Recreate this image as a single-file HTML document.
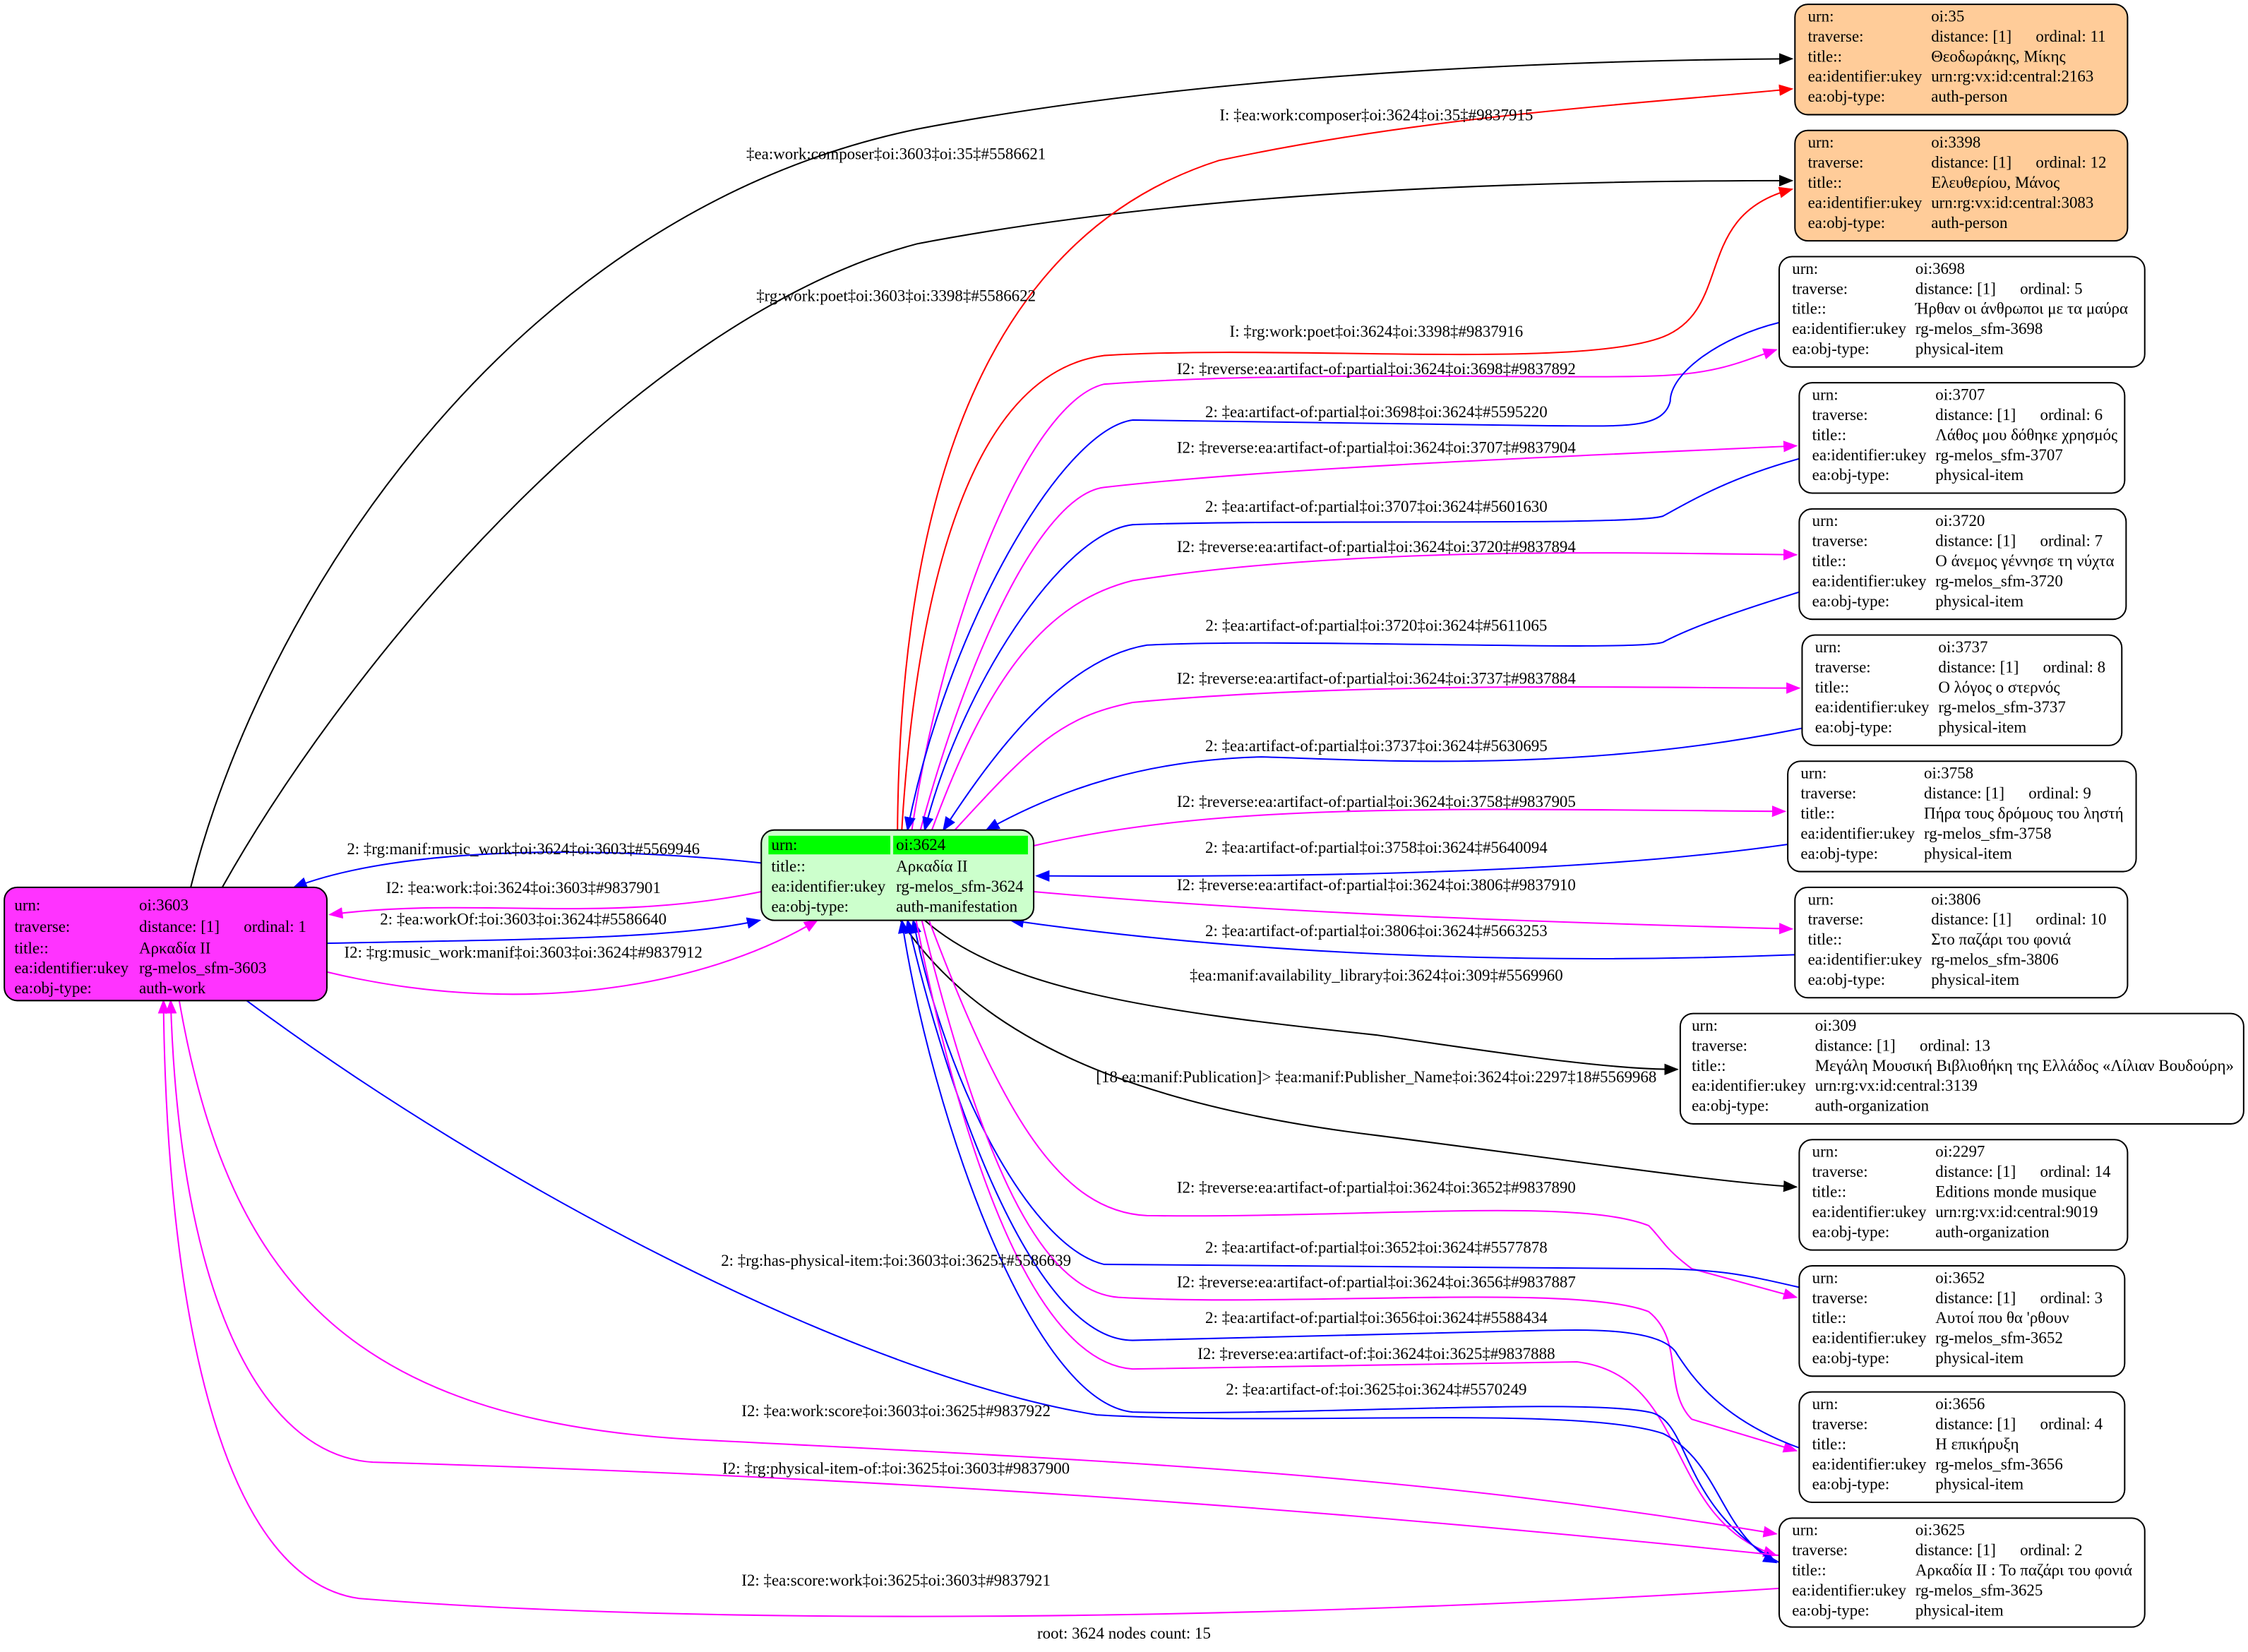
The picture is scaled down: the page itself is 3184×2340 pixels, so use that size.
<!DOCTYPE html>
<html><head><meta charset="utf-8"><style>
html,body{margin:0;padding:0;background:#fff;}
svg{display:block;}
text{font-family:"Liberation Serif",serif;font-size:11.3px;fill:#000;}
.e{fill:none;stroke-width:1;}
.k{stroke:#000}.r{stroke:#f00}.b{stroke:#00f}.m{stroke:#f0f}
.lbl{text-anchor:middle;}
.n{stroke:#000;stroke-width:1;}
</style></head><body>
<svg width="3184" height="2340" viewBox="0 0 1568 1152.4" xmlns="http://www.w3.org/2000/svg">
<defs>
<marker id="ak" markerWidth="10" markerHeight="8" refX="9" refY="4" orient="auto" markerUnits="userSpaceOnUse"><path d="M0,0L10,4L0,8z" fill="#000"/></marker>
<marker id="ar" markerWidth="10" markerHeight="8" refX="9" refY="4" orient="auto" markerUnits="userSpaceOnUse"><path d="M0,0L10,4L0,8z" fill="#f00"/></marker>
<marker id="ab" markerWidth="10" markerHeight="8" refX="9" refY="4" orient="auto" markerUnits="userSpaceOnUse"><path d="M0,0L10,4L0,8z" fill="#00f"/></marker>
<marker id="am" markerWidth="10" markerHeight="8" refX="9" refY="4" orient="auto" markerUnits="userSpaceOnUse"><path d="M0,0L10,4L0,8z" fill="#f0f"/></marker>
</defs>
<rect width="1568" height="1153" fill="#fff"/>

<!-- black edges -->
<path class="e k" marker-end="url(#ak)" d="M133,619 C180,430 350,150 640,90 C850,50 1100,42 1250,41"/>
<path class="e k" marker-end="url(#ak)" d="M155,619 C250,450 450,220 640,170 C850,130 1100,126 1250,126"/>
<path class="e k" marker-end="url(#ak)" d="M645,642 C700,690 800,705 960,722 C1050,735 1120,746 1170,746"/>
<path class="e k" marker-end="url(#ak)" d="M628,642 C680,720 780,770 960,792 C1100,810 1200,825 1253,828"/>
<!-- red -->
<path class="e r" marker-end="url(#ar)" d="M626,579 C628,320 700,160 850,112 C1000,80 1150,72 1250,62"/>
<path class="e r" marker-end="url(#ar)" d="M629,579 C640,400 680,260 770,248 C900,240 1100,258 1160,235 C1210,215 1180,150 1250,132"/>
<!-- upper group -->
<path class="e m" marker-end="url(#am)" d="M636,579 C660,420 720,280 770,268 C900,258 1100,265 1160,262 C1200,260 1215,252 1239,244"/>
<path class="e b" marker-end="url(#ab)" d="M1241,225 C1200,235 1165,260 1165,280 C1160,300 1130,297 1080,297 L790,293 C740,300 660,440 633,579"/>
<path class="e m" marker-end="url(#am)" d="M642,579 C680,440 730,345 770,340 C900,325 1150,316 1253,311"/>
<path class="e b" marker-end="url(#ab)" d="M1255,320 C1200,335 1170,355 1160,360 C1140,367 900,362 790,366 C740,372 670,480 645,579"/>
<path class="e m" marker-end="url(#am)" d="M650,579 C690,470 730,420 790,405 C950,380 1150,386 1253,387"/>
<path class="e b" marker-end="url(#ab)" d="M1255,413 C1200,430 1175,440 1160,448 C1140,455 900,445 800,450 C740,460 690,530 658,579"/>
<path class="e m" marker-end="url(#am)" d="M666,579 C720,520 740,500 790,490 C950,475 1150,480 1255,480"/>
<path class="e b" marker-end="url(#ab)" d="M1257,508 C1100,540 950,530 880,528 C800,530 740,550 688,579"/>
<path class="e m" marker-end="url(#am)" d="M721,590 C850,560 1000,564 1245,566"/>
<path class="e b" marker-end="url(#ab)" d="M1247,589 C1100,610 900,612 723,611"/>
<path class="e m" marker-end="url(#am)" d="M721,622 C900,638 1100,644 1250,648"/>
<path class="e b" marker-end="url(#ab)" d="M1252,666 C1100,672 900,670 705,642"/>
<!-- 3603 <-> 3624 -->
<path class="e b" marker-end="url(#ab)" d="M531,602 C420,590 280,590 205,619"/>
<path class="e m" marker-end="url(#am)" d="M531,622 C420,645 330,625 230,638"/>
<path class="e b" marker-end="url(#ab)" d="M228,658 C380,655 470,655 530,642"/>
<path class="e m" marker-end="url(#am)" d="M228,678 C360,710 490,690 570,642"/>
<!-- lower group -->
<path class="e m" marker-end="url(#am)" d="M648,642 C700,780 740,845 800,848 C950,850 1100,835 1150,855 C1160,865 1160,870 1180,885 L1253,905"/>
<path class="e b" marker-end="url(#ab)" d="M1255,898 C1220,890 1200,885 1150,885 L770,882 C720,870 660,760 637,642"/>
<path class="e m" marker-end="url(#am)" d="M643,642 C680,790 720,900 780,905 C900,912 1100,895 1150,915 C1175,935 1160,970 1180,990 L1253,1012"/>
<path class="e b" marker-end="url(#ab)" d="M1255,1010 C1200,990 1180,960 1170,945 C1160,925 1100,928 1080,928 L790,935 C720,935 660,760 633,642"/>
<path class="e m" marker-end="url(#am)" d="M639,642 C670,800 720,950 790,955 L1100,950 C1180,960 1160,1060 1239,1085"/>
<path class="e b" marker-end="url(#ab)" d="M1241,1090 C1170,1050 1180,990 1150,985 C1100,975 900,988 790,985 C720,978 650,780 629,642"/>
<!-- 3603 <-> 3625 -->
<path class="e b" marker-end="url(#ab)" d="M172,698 C350,830 600,960 765,987 C900,995 1100,980 1160,1000 C1200,1020 1200,1070 1239,1090"/>
<path class="e m" marker-end="url(#am)" d="M125,698 C160,900 250,995 500,1005 C800,1020 1000,1030 1239,1070"/>
<path class="e m" marker-end="url(#am)" d="M1241,1085 C900,1050 600,1030 260,1020 C180,1015 125,900 119,698"/>
<path class="e m" marker-end="url(#am)" d="M1241,1108 C900,1130 500,1135 250,1115 C150,1100 116,900 114,698"/>

<!-- edge labels -->
<text class="lbl" x="625" y="111">‡ea:work:composer‡oi:3603‡oi:35‡#5586621</text>
<text class="lbl" x="625" y="210">‡rg:work:poet‡oi:3603‡oi:3398‡#5586622</text>
<text class="lbl" x="960" y="84">I: ‡ea:work:composer‡oi:3624‡oi:35‡#9837915</text>
<text class="lbl" x="960" y="235">I: ‡rg:work:poet‡oi:3624‡oi:3398‡#9837916</text>
<text class="lbl" x="960" y="261">I2: ‡reverse:ea:artifact-of:partial‡oi:3624‡oi:3698‡#9837892</text>
<text class="lbl" x="960" y="291">2: ‡ea:artifact-of:partial‡oi:3698‡oi:3624‡#5595220</text>
<text class="lbl" x="960" y="316">I2: ‡reverse:ea:artifact-of:partial‡oi:3624‡oi:3707‡#9837904</text>
<text class="lbl" x="960" y="357">2: ‡ea:artifact-of:partial‡oi:3707‡oi:3624‡#5601630</text>
<text class="lbl" x="960" y="385">I2: ‡reverse:ea:artifact-of:partial‡oi:3624‡oi:3720‡#9837894</text>
<text class="lbl" x="960" y="440">2: ‡ea:artifact-of:partial‡oi:3720‡oi:3624‡#5611065</text>
<text class="lbl" x="960" y="477">I2: ‡reverse:ea:artifact-of:partial‡oi:3624‡oi:3737‡#9837884</text>
<text class="lbl" x="960" y="524">2: ‡ea:artifact-of:partial‡oi:3737‡oi:3624‡#5630695</text>
<text class="lbl" x="960" y="563">I2: ‡reverse:ea:artifact-of:partial‡oi:3624‡oi:3758‡#9837905</text>
<text class="lbl" x="960" y="595">2: ‡ea:artifact-of:partial‡oi:3758‡oi:3624‡#5640094</text>
<text class="lbl" x="960" y="621">I2: ‡reverse:ea:artifact-of:partial‡oi:3624‡oi:3806‡#9837910</text>
<text class="lbl" x="960" y="653">2: ‡ea:artifact-of:partial‡oi:3806‡oi:3624‡#5663253</text>
<text class="lbl" x="960" y="684">‡ea:manif:availability_library‡oi:3624‡oi:309‡#5569960</text>
<text class="lbl" x="960" y="755">[18 ea:manif:Publication]&gt; ‡ea:manif:Publisher_Name‡oi:3624‡oi:2297‡18#5569968</text>
<text class="lbl" x="960" y="832">I2: ‡reverse:ea:artifact-of:partial‡oi:3624‡oi:3652‡#9837890</text>
<text class="lbl" x="960" y="874">2: ‡ea:artifact-of:partial‡oi:3652‡oi:3624‡#5577878</text>
<text class="lbl" x="960" y="898">I2: ‡reverse:ea:artifact-of:partial‡oi:3624‡oi:3656‡#9837887</text>
<text class="lbl" x="960" y="923">2: ‡ea:artifact-of:partial‡oi:3656‡oi:3624‡#5588434</text>
<text class="lbl" x="960" y="948">I2: ‡reverse:ea:artifact-of:‡oi:3624‡oi:3625‡#9837888</text>
<text class="lbl" x="960" y="973">2: ‡ea:artifact-of:‡oi:3625‡oi:3624‡#5570249</text>
<text class="lbl" x="365" y="596">2: ‡rg:manif:music_work‡oi:3624‡oi:3603‡#5569946</text>
<text class="lbl" x="365" y="623">I2: ‡ea:work:‡oi:3624‡oi:3603‡#9837901</text>
<text class="lbl" x="365" y="645">2: ‡ea:workOf:‡oi:3603‡oi:3624‡#5586640</text>
<text class="lbl" x="365" y="668">I2: ‡rg:music_work:manif‡oi:3603‡oi:3624‡#9837912</text>
<text class="lbl" x="625" y="883">2: ‡rg:has-physical-item:‡oi:3603‡oi:3625‡#5586639</text>
<text class="lbl" x="625" y="988">I2: ‡ea:work:score‡oi:3603‡oi:3625‡#9837922</text>
<text class="lbl" x="625" y="1028">I2: ‡rg:physical-item-of:‡oi:3625‡oi:3603‡#9837900</text>
<text class="lbl" x="625" y="1106">I2: ‡ea:score:work‡oi:3625‡oi:3603‡#9837921</text>
<text class="lbl" x="784" y="1143">root: 3624 nodes count: 15</text>

<!-- nodes -->
<g>
<rect class="n" x="1252" y="3" width="232" height="77" rx="9" fill="#ffcc99"/>
<text x="1261" y="15">urn:</text><text x="1347" y="15">oi:35</text>
<text x="1261" y="29">traverse:</text><text x="1347" y="29">distance: [1]</text><text x="1420" y="29">ordinal: 11</text>
<text x="1261" y="43">title::</text><text x="1347" y="43">Θεοδωράκης, Μίκης</text>
<text x="1261" y="57">ea:identifier:ukey</text><text x="1347" y="57">urn:rg:vx:id:central:2163</text>
<text x="1261" y="71">ea:obj-type:</text><text x="1347" y="71">auth-person</text>
</g>
<g>
<rect class="n" x="1252" y="91" width="232" height="77" rx="9" fill="#ffcc99"/>
<text x="1261" y="103">urn:</text><text x="1347" y="103">oi:3398</text>
<text x="1261" y="117">traverse:</text><text x="1347" y="117">distance: [1]</text><text x="1420" y="117">ordinal: 12</text>
<text x="1261" y="131">title::</text><text x="1347" y="131">Ελευθερίου, Μάνος</text>
<text x="1261" y="145">ea:identifier:ukey</text><text x="1347" y="145">urn:rg:vx:id:central:3083</text>
<text x="1261" y="159">ea:obj-type:</text><text x="1347" y="159">auth-person</text>
</g>
<g>
<rect class="n" x="1241" y="179" width="255" height="77" rx="9" fill="#fff"/>
<text x="1250" y="191">urn:</text><text x="1336" y="191">oi:3698</text>
<text x="1250" y="205">traverse:</text><text x="1336" y="205">distance: [1]</text><text x="1409" y="205">ordinal: 5</text>
<text x="1250" y="219">title::</text><text x="1336" y="219">Ήρθαν οι άνθρωποι με τα μαύρα</text>
<text x="1250" y="233">ea:identifier:ukey</text><text x="1336" y="233">rg-melos_sfm-3698</text>
<text x="1250" y="247">ea:obj-type:</text><text x="1336" y="247">physical-item</text>
</g>
<g>
<rect class="n" x="1255" y="267" width="227" height="77" rx="9" fill="#fff"/>
<text x="1264" y="279">urn:</text><text x="1350" y="279">oi:3707</text>
<text x="1264" y="293">traverse:</text><text x="1350" y="293">distance: [1]</text><text x="1423" y="293">ordinal: 6</text>
<text x="1264" y="307">title::</text><text x="1350" y="307">Λάθος μου δόθηκε χρησμός</text>
<text x="1264" y="321">ea:identifier:ukey</text><text x="1350" y="321">rg-melos_sfm-3707</text>
<text x="1264" y="335">ea:obj-type:</text><text x="1350" y="335">physical-item</text>
</g>
<g>
<rect class="n" x="1255" y="355" width="228" height="77" rx="9" fill="#fff"/>
<text x="1264" y="367">urn:</text><text x="1350" y="367">oi:3720</text>
<text x="1264" y="381">traverse:</text><text x="1350" y="381">distance: [1]</text><text x="1423" y="381">ordinal: 7</text>
<text x="1264" y="395">title::</text><text x="1350" y="395">Ο άνεμος γέννησε τη νύχτα</text>
<text x="1264" y="409">ea:identifier:ukey</text><text x="1350" y="409">rg-melos_sfm-3720</text>
<text x="1264" y="423">ea:obj-type:</text><text x="1350" y="423">physical-item</text>
</g>
<g>
<rect class="n" x="1257" y="443" width="223" height="77" rx="9" fill="#fff"/>
<text x="1266" y="455">urn:</text><text x="1352" y="455">oi:3737</text>
<text x="1266" y="469">traverse:</text><text x="1352" y="469">distance: [1]</text><text x="1425" y="469">ordinal: 8</text>
<text x="1266" y="483">title::</text><text x="1352" y="483">Ο λόγος ο στερνός</text>
<text x="1266" y="497">ea:identifier:ukey</text><text x="1352" y="497">rg-melos_sfm-3737</text>
<text x="1266" y="511">ea:obj-type:</text><text x="1352" y="511">physical-item</text>
</g>
<g>
<rect class="n" x="1247" y="531" width="243" height="77" rx="9" fill="#fff"/>
<text x="1256" y="543">urn:</text><text x="1342" y="543">oi:3758</text>
<text x="1256" y="557">traverse:</text><text x="1342" y="557">distance: [1]</text><text x="1415" y="557">ordinal: 9</text>
<text x="1256" y="571">title::</text><text x="1342" y="571">Πήρα τους δρόμους του ληστή</text>
<text x="1256" y="585">ea:identifier:ukey</text><text x="1342" y="585">rg-melos_sfm-3758</text>
<text x="1256" y="599">ea:obj-type:</text><text x="1342" y="599">physical-item</text>
</g>
<g>
<rect class="n" x="1252" y="619" width="232" height="77" rx="9" fill="#fff"/>
<text x="1261" y="631">urn:</text><text x="1347" y="631">oi:3806</text>
<text x="1261" y="645">traverse:</text><text x="1347" y="645">distance: [1]</text><text x="1420" y="645">ordinal: 10</text>
<text x="1261" y="659">title::</text><text x="1347" y="659">Στο παζάρι του φονιά</text>
<text x="1261" y="673">ea:identifier:ukey</text><text x="1347" y="673">rg-melos_sfm-3806</text>
<text x="1261" y="687">ea:obj-type:</text><text x="1347" y="687">physical-item</text>
</g>
<g>
<rect class="n" x="1172" y="707" width="393" height="77" rx="9" fill="#fff"/>
<text x="1180" y="719">urn:</text><text x="1266" y="719">oi:309</text>
<text x="1180" y="733">traverse:</text><text x="1266" y="733">distance: [1]</text><text x="1339" y="733">ordinal: 13</text>
<text x="1180" y="747">title::</text><text x="1266" y="747">Μεγάλη Μουσική Βιβλιοθήκη της Ελλάδος «Λίλιαν Βουδούρη»</text>
<text x="1180" y="761">ea:identifier:ukey</text><text x="1266" y="761">urn:rg:vx:id:central:3139</text>
<text x="1180" y="775">ea:obj-type:</text><text x="1266" y="775">auth-organization</text>
</g>
<g>
<rect class="n" x="1255" y="795" width="229" height="77" rx="9" fill="#fff"/>
<text x="1264" y="807">urn:</text><text x="1350" y="807">oi:2297</text>
<text x="1264" y="821">traverse:</text><text x="1350" y="821">distance: [1]</text><text x="1423" y="821">ordinal: 14</text>
<text x="1264" y="835">title::</text><text x="1350" y="835">Editions monde musique</text>
<text x="1264" y="849">ea:identifier:ukey</text><text x="1350" y="849">urn:rg:vx:id:central:9019</text>
<text x="1264" y="863">ea:obj-type:</text><text x="1350" y="863">auth-organization</text>
</g>
<g>
<rect class="n" x="1255" y="883" width="227" height="77" rx="9" fill="#fff"/>
<text x="1264" y="895">urn:</text><text x="1350" y="895">oi:3652</text>
<text x="1264" y="909">traverse:</text><text x="1350" y="909">distance: [1]</text><text x="1423" y="909">ordinal: 3</text>
<text x="1264" y="923">title::</text><text x="1350" y="923">Αυτοί που θα 'ρθουν</text>
<text x="1264" y="937">ea:identifier:ukey</text><text x="1350" y="937">rg-melos_sfm-3652</text>
<text x="1264" y="951">ea:obj-type:</text><text x="1350" y="951">physical-item</text>
</g>
<g>
<rect class="n" x="1255" y="971" width="227" height="77" rx="9" fill="#fff"/>
<text x="1264" y="983">urn:</text><text x="1350" y="983">oi:3656</text>
<text x="1264" y="997">traverse:</text><text x="1350" y="997">distance: [1]</text><text x="1423" y="997">ordinal: 4</text>
<text x="1264" y="1011">title::</text><text x="1350" y="1011">Η επικήρυξη</text>
<text x="1264" y="1025">ea:identifier:ukey</text><text x="1350" y="1025">rg-melos_sfm-3656</text>
<text x="1264" y="1039">ea:obj-type:</text><text x="1350" y="1039">physical-item</text>
</g>
<g>
<rect class="n" x="1241" y="1059" width="255" height="76" rx="9" fill="#fff"/>
<text x="1250" y="1071">urn:</text><text x="1336" y="1071">oi:3625</text>
<text x="1250" y="1085">traverse:</text><text x="1336" y="1085">distance: [1]</text><text x="1409" y="1085">ordinal: 2</text>
<text x="1250" y="1099">title::</text><text x="1336" y="1099">Αρκαδία ΙΙ : Το παζάρι του φονιά</text>
<text x="1250" y="1113">ea:identifier:ukey</text><text x="1336" y="1113">rg-melos_sfm-3625</text>
<text x="1250" y="1127">ea:obj-type:</text><text x="1336" y="1127">physical-item</text>
</g>
<g>
<rect class="n" x="3" y="619" width="225" height="79" rx="9" fill="#ff33ff"/>
<text x="10" y="635">urn:</text><text x="97" y="635">oi:3603</text>
<text x="10" y="650">traverse:</text><text x="97" y="650">distance: [1]</text><text x="170" y="650">ordinal: 1</text>
<text x="10" y="665">title::</text><text x="97" y="665">Αρκαδία ΙΙ</text>
<text x="10" y="679">ea:identifier:ukey</text><text x="97" y="679">rg-melos_sfm-3603</text>
<text x="10" y="693">ea:obj-type:</text><text x="97" y="693">auth-work</text>
</g>
<g>
<rect class="n" x="531" y="579" width="190" height="63" rx="9" fill="#ccffcc"/>
<rect x="536" y="583" width="85" height="13" fill="#00ff00"/>
<rect x="623" y="583" width="94" height="13" fill="#00ff00"/>
<text x="538" y="593">urn:</text><text x="625" y="593">oi:3624</text>
<text x="538" y="608">title::</text><text x="625" y="608">Αρκαδία ΙΙ</text>
<text x="538" y="622">ea:identifier:ukey</text><text x="625" y="622">rg-melos_sfm-3624</text>
<text x="538" y="636">ea:obj-type:</text><text x="625" y="636">auth-manifestation</text>
</g>
</svg>
</body></html>
